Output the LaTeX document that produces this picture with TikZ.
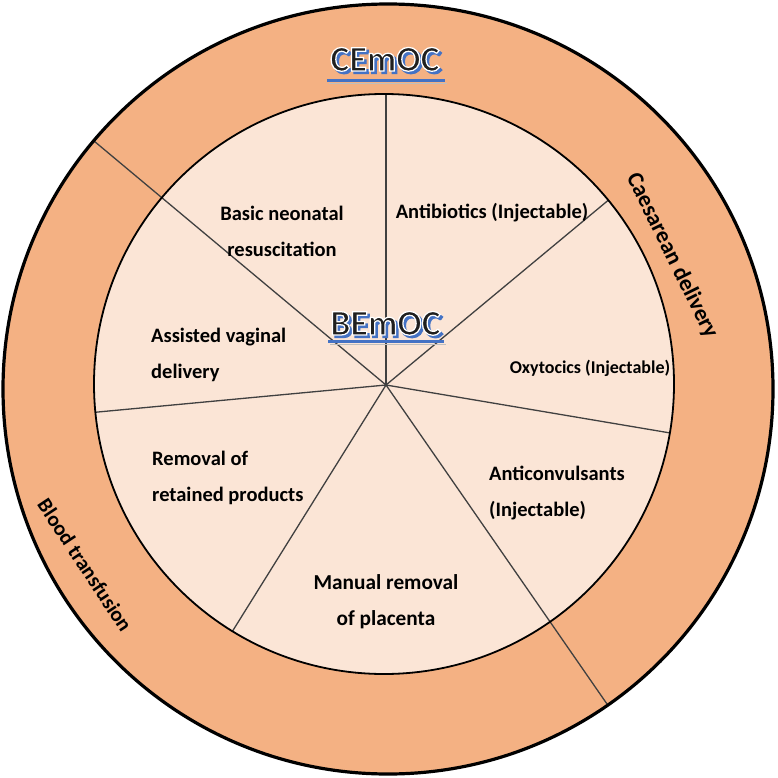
\documentclass[tikz,border=0pt]{standalone}
\usepackage{fontspec}
\setmainfont{Carlito}
\newfontface\ttlfont{Carlito Bold}[FakeBold=3.5]
\definecolor{outerfill}{HTML}{F4B183}
\definecolor{innerfill}{HTML}{FBE5D6}
\definecolor{titleblue}{HTML}{4472C4}
\definecolor{spokecol}{HTML}{404040}
\newcommand\whitestroke{\special{pdf:code 1 1 1 RG}}
\begin{document}
\begin{tikzpicture}[x=1pt,y=-1pt,
  spoke/.style={line width=1.3pt, draw=spokecol},
  lbl/.style={font=\fontsize{20.5}{36}\selectfont\bfseries, inner sep=0pt, text=black},
  ringlbl/.style={font=\fontsize{21}{24}\selectfont\bfseries, inner sep=0pt, text=black},
  ttl/.style={font=\fontsize{36}{40}\ttlfont, inner sep=0pt, anchor=base}]
\useasboundingbox (0,0) rectangle (777,778);
\coordinate (O) at (388,389);
\coordinate (I) at (384,384);
\coordinate (C) at (386,385);
% spoke end points
\coordinate (s1) at (386,70);
\coordinate (s2) at (629,183);
\coordinate (s3) at (700,438);
\coordinate (s4) at (607,704);
\coordinate (s5) at (217,656);
\coordinate (s6) at (66,415);
\coordinate (s7) at (94,141);
% outer ring
\fill[outerfill] (O) circle (385pt);
\fill[innerfill] (I) circle (290pt);
% long spokes through the ring
\draw[spoke] (C) -- (s4);
\draw[spoke] (C) -- (s7);
% short spokes clipped to the inner circle
\begin{scope}
\clip (I) circle (290pt);
\draw[spoke] (C) -- (s1);
\draw[spoke] (C) -- (s2);
\draw[spoke] (C) -- (s3);
\draw[spoke] (C) -- (s5);
\draw[spoke] (C) -- (s6);
\end{scope}
\draw[line width=1.8pt] (I) circle (290pt);
\draw[line width=3.2pt] (O) circle (385pt);
% sector labels
\node[lbl, align=center] (basic) at (282,231) {Basic neonatal\\resuscitation};
\node[lbl] (anti) at (492,213) {Antibiotics (Injectable)};
\node[lbl, font=\fontsize{18}{36}\selectfont\bfseries] (oxy) at (590,368) {Oxytocics (Injectable)};
\node[lbl, align=left, anchor=west] (assist) at (151,354.5) {Assisted vaginal\\delivery};
\node[lbl, align=left, anchor=west] (remov) at (152,478) {Removal of\\retained products};
\node[lbl, align=left, anchor=west] (convul) at (489,493.5) {Anticonvulsants\\(Injectable)};
\node[lbl, align=center, font=\fontsize{21.3}{36}\selectfont\bfseries] (manual) at (386,601.5) {Manual removal\\of placenta};
% ring labels
\node[ringlbl, font=\fontsize{23}{26}\selectfont\bfseries, rotate=-63.7] (caes) at (672,256) {Caesarean delivery};
\node[ringlbl, rotate=-56.5] (blood) at (85,565) {Blood transfusion};
% titles
\draw[line width=1.6pt, draw=black!25] (329,83.5) -- (447,83.5);
\draw[line width=2.6pt, draw=titleblue] (327,80.5) -- (445,80.5);
\node[ttl, text=titleblue] (ceshadow) at (387.5,73.5) {CEmOC};
\node[ttl, text=black!88] (cemoc) at (385,71) {\whitestroke CEmOC};
\draw[line width=1.6pt, draw=black!25] (330,344.5) -- (446,344.5);
\draw[line width=2.6pt, draw=titleblue] (328,341.5) -- (444,341.5);
\node[ttl, text=titleblue] (beshadow) at (388,337.5) {BEmOC};
\node[ttl, text=black!88] (bemoc) at (385.5,335) {\whitestroke BEmOC};
\end{tikzpicture}
\end{document}
